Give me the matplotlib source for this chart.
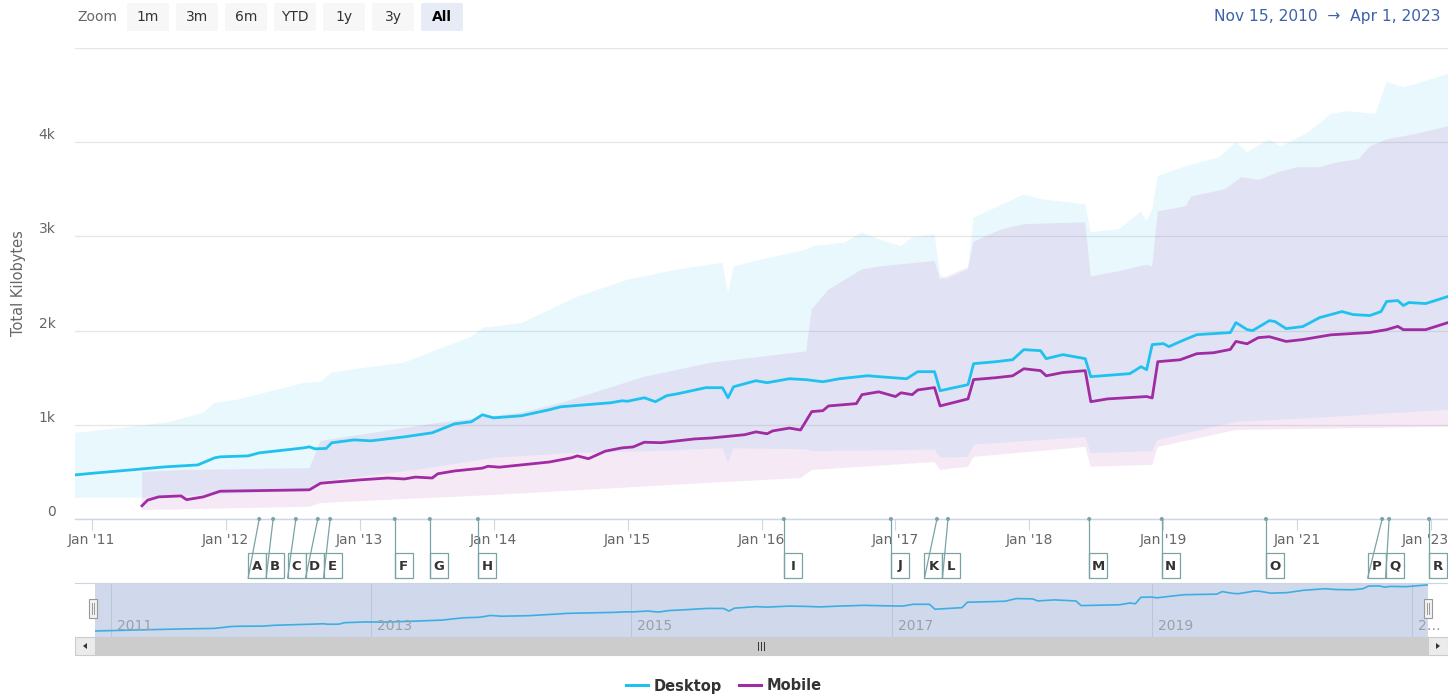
import numpy as np
import pandas as pd
import matplotlib
matplotlib.use('Agg')
import matplotlib.pyplot as plt
from matplotlib.patches import Rectangle, FancyBboxPatch, Polygon, Circle
from matplotlib.lines import Line2D
from matplotlib.transforms import ScaledTranslation

W, H = 1448, 695

# crawl calendar (ordinal x axis): 1st & 15th until end of 2018, monthly afterwards
crawls = pd.DatetimeIndex(list(pd.date_range('2010-11-15', '2018-12-15', freq='SMS')) +
                          list(pd.date_range('2019-01-01', '2023-04-01', freq='MS')))

# median total kilobytes, desktop
desk_dates = ['2010-11-15', '2011-01-01', '2011-04-15', '2011-07-15', '2011-10-15', '2011-12-01',
              '2011-12-15', '2012-03-01', '2012-04-01', '2012-08-01', '2012-08-15', '2012-09-01',
              '2012-10-01', '2012-10-15', '2012-12-15', '2013-02-01', '2013-05-01', '2013-07-15',
              '2013-09-15', '2013-11-01', '2013-12-01', '2014-01-01', '2014-03-15', '2014-06-01',
              '2014-07-01', '2014-11-15', '2014-12-15', '2015-01-01', '2015-02-15', '2015-03-15',
              '2015-04-15', '2015-05-15', '2015-08-01', '2015-09-15', '2015-10-01', '2015-10-15',
              '2015-12-15', '2016-01-15', '2016-03-15', '2016-05-01', '2016-06-15', '2016-08-01',
              '2016-10-15', '2016-11-15', '2017-02-01', '2017-03-01', '2017-04-15', '2017-05-01',
              '2017-07-15', '2017-08-01', '2017-10-01', '2017-11-15', '2017-12-15', '2018-02-01',
              '2018-02-15', '2018-04-01', '2018-06-01', '2018-06-15', '2018-10-01', '2018-11-01',
              '2018-11-15', '2018-12-01', '2019-01-01', '2019-02-01', '2019-04-01', '2019-07-01',
              '2019-10-01', '2020-01-01', '2020-02-01', '2020-04-01', '2020-05-01', '2020-08-01',
              '2020-09-01', '2020-11-01', '2021-02-01', '2021-05-01', '2021-09-01', '2021-11-01',
              '2022-02-01', '2022-04-01', '2022-05-01', '2022-07-01', '2022-08-01', '2022-09-01',
              '2022-12-01', '2023-04-01']
desk_kb = [468, 485, 521, 553, 574, 649,
           660, 670, 702, 755, 766, 745,
           749, 809, 840, 830, 872, 915,
           1010, 1032, 1106, 1074, 1096, 1160,
           1191, 1234, 1255, 1250, 1287, 1245,
           1309, 1330, 1394, 1394, 1287, 1404,
           1468, 1447, 1489, 1479, 1457, 1489,
           1521, 1511, 1489, 1564, 1564, 1362,
           1426, 1649, 1670, 1691, 1798, 1787,
           1702, 1745, 1702, 1511, 1543, 1617,
           1585, 1851, 1862, 1830, 1883, 1957,
           1968, 1979, 2085, 2011, 2000, 2106,
           2096, 2021, 2043, 2138, 2202, 2170,
           2160, 2202, 2309, 2319, 2266, 2298,
           2287, 2362]

# median total kilobytes, mobile
mob_dates = ['2011-05-15', '2011-06-01', '2011-07-01', '2011-09-01', '2011-09-15', '2011-11-01',
             '2011-12-01', '2011-12-15', '2012-08-15', '2012-09-15', '2012-11-01', '2013-01-01',
             '2013-03-15', '2013-05-01', '2013-06-01', '2013-07-15', '2013-08-01', '2013-09-15',
             '2013-12-01', '2013-12-15', '2014-01-15', '2014-06-01', '2014-08-01', '2014-08-15',
             '2014-09-15', '2014-11-01', '2014-12-15', '2015-01-15', '2015-02-15', '2015-04-01',
             '2015-07-01', '2015-08-15', '2015-11-15', '2015-12-15', '2016-01-15', '2016-02-01',
             '2016-03-15', '2016-04-15', '2016-05-15', '2016-06-15', '2016-07-01', '2016-09-15',
             '2016-10-01', '2016-11-15', '2017-01-01', '2017-01-15', '2017-02-15', '2017-03-01',
             '2017-04-15', '2017-05-01', '2017-07-15', '2017-08-01', '2017-10-01', '2017-11-15',
             '2017-12-15', '2018-02-01', '2018-02-15', '2018-04-01', '2018-06-01', '2018-06-15',
             '2018-08-01', '2018-11-15', '2018-12-01', '2018-12-15', '2019-04-01', '2019-07-01',
             '2019-10-01', '2020-01-01', '2020-02-01', '2020-04-01', '2020-06-01', '2020-08-01',
             '2020-11-01', '2021-02-01', '2021-07-01', '2022-02-01', '2022-05-01', '2022-07-01',
             '2022-08-01', '2022-12-01', '2023-04-01']
mob_kb = [140, 200, 235, 245, 205, 235,
          275, 295, 310, 380, 395, 415,
          435, 425, 445, 435, 480, 510,
          540, 560, 550, 605, 650, 670,
          640, 720, 755, 765, 815, 810,
          850, 860, 895, 925, 905, 935,
          965, 945, 1140, 1150, 1200, 1225,
          1320, 1350, 1300, 1340, 1320, 1370,
          1395, 1200, 1275, 1480, 1500, 1520,
          1595, 1575, 1520, 1555, 1575, 1245,
          1275, 1300, 1285, 1670, 1690, 1755,
          1765, 1800, 1885, 1860, 1925, 1935,
          1885, 1905, 1955, 1980, 2010, 2045,
          2010, 2010, 2085]

# percentile bands (upper / lower edges)
desk_hi_dates = ['2010-11-15', '2011-02-01', '2011-04-15', '2011-08-01', '2011-11-01', '2011-12-01',
                 '2012-02-01', '2012-08-01', '2012-09-15', '2012-10-15', '2013-02-01', '2013-05-01',
                 '2013-08-01', '2013-11-01', '2013-12-01', '2014-03-15', '2014-08-15', '2015-01-01',
                 '2015-05-15', '2015-09-15', '2015-10-01', '2015-10-15', '2016-01-01', '2016-05-01',
                 '2016-05-15', '2016-08-15', '2016-10-01', '2016-11-15', '2017-01-15', '2017-02-15',
                 '2017-04-15', '2017-05-01', '2017-05-15', '2017-07-15', '2017-08-01', '2017-12-15',
                 '2018-02-01', '2018-06-01', '2018-06-15', '2018-09-01', '2018-11-01', '2018-11-15',
                 '2018-12-01', '2018-12-15', '2019-05-01', '2019-11-01', '2020-02-01', '2020-04-01',
                 '2020-08-01', '2020-10-01', '2021-03-01', '2021-07-01', '2021-10-01', '2022-03-01',
                 '2022-05-01', '2022-08-01', '2022-10-01', '2023-04-01']
desk_hi = [915, 945, 980, 1030, 1130, 1235,
           1265, 1445, 1455, 1555, 1615, 1660,
           1800, 1935, 2030, 2080, 2360, 2540,
           2650, 2720, 2400, 2680, 2755, 2860,
           2895, 2935, 3045, 2970, 2895, 2990,
           3020, 2600, 2545, 2650, 3200, 3445,
           3395, 3340, 3045, 3075, 3265, 3160,
           3285, 3640, 3745, 3840, 4000, 3895,
           4030, 3955, 4105, 4300, 4330, 4300,
           4640, 4585, 4615, 4725]
desk_lo_dates = ['2010-11-15', '2011-05-15', '2011-12-01', '2012-08-15', '2012-09-15', '2013-06-01',
                 '2014-01-01', '2014-08-01', '2015-03-01', '2015-09-15', '2015-10-01', '2015-10-15',
                 '2016-05-01', '2016-05-15', '2017-04-15', '2017-05-01', '2017-07-15', '2017-08-01',
                 '2018-06-01', '2018-06-15', '2018-12-01', '2018-12-15', '2020-02-01', '2021-06-01',
                 '2023-04-01']
desk_lo = [225, 225, 260, 300, 400, 520,
           650, 700, 720, 750, 600, 750,
           740, 720, 735, 650, 660, 790,
           870, 700, 720, 840, 1030, 1080,
           1160]
mob_hi_dates = ['2011-05-15', '2011-09-01', '2012-08-15', '2012-09-15', '2013-08-01', '2014-03-15',
                '2014-07-01', '2015-02-15', '2015-08-15', '2016-05-01', '2016-05-15', '2016-07-01',
                '2016-10-01', '2016-11-15', '2017-04-15', '2017-05-01', '2017-07-15', '2017-08-01',
                '2017-10-15', '2017-12-15', '2018-06-01', '2018-06-15', '2018-09-01', '2018-11-15',
                '2018-12-01', '2018-12-15', '2019-05-01', '2019-06-01', '2019-12-01', '2020-03-01',
                '2020-06-01', '2020-10-01', '2021-01-01', '2021-05-01', '2021-08-01', '2021-12-01',
                '2022-02-01', '2022-05-01', '2022-10-01', '2023-04-01']
mob_hi = [500, 520, 540, 830, 1020, 1130,
          1230, 1510, 1660, 1780, 2225, 2435,
          2650, 2680, 2740, 2545, 2670, 2945,
          3075, 3130, 3150, 2575, 2630, 2700,
          2680, 3265, 3320, 3425, 3500, 3630,
          3600, 3690, 3735, 3735, 3785, 3820,
          3955, 4030, 4085, 4170]
mob_lo_dates = ['2011-05-15', '2012-08-15', '2012-09-15', '2014-01-01', '2015-08-15', '2016-04-15',
                '2016-05-15', '2017-04-15', '2017-05-01', '2017-07-15', '2017-08-01', '2018-06-01',
                '2018-06-15', '2018-12-01', '2018-12-15', '2020-02-01', '2023-04-01']
mob_lo = [95, 130, 170, 255, 385, 435,
          520, 605, 520, 555, 660, 765,
          555, 575, 765, 945, 980]

# annotation flags
flag_letters = list('ABCDEFGHIJKLMNOPQR')
flag_dates = ['2012-04-01', '2012-05-08', '2012-07-09', '2012-09-08', '2012-10-11', '2013-04-05',
              '2013-07-09', '2013-11-18', '2016-03-01', '2016-12-18', '2017-04-22', '2017-05-22',
              '2018-06-11', '2018-12-27', '2020-07-13', '2022-04-07', '2022-05-15', '2022-12-20']

xtick_dates = ['2011-01-01', '2012-01-01', '2013-01-01', '2014-01-01', '2015-01-01', '2016-01-01',
               '2017-01-01', '2018-01-01', '2019-01-01', '2021-01-01', '2023-01-01']
xtick_labels = ["Jan '11", "Jan '12", "Jan '13", "Jan '14", "Jan '15", "Jan '16",
                "Jan '17", "Jan '18", "Jan '19", "Jan '21", "Jan '23"]
nav_tick_dates = ['2011-01-01', '2013-01-01', '2015-01-01', '2017-01-01', '2019-01-01', '2023-01-01']
nav_tick_labels = ['2011', '2013', '2015', '2017', '2019', '2…']
zoom_buttons = ['1m', '3m', '6m', 'YTD', '1y', '3y', 'All']

DESK = '#1fc2ef'
MOB = '#a12ba3'
GREY = '#666666'
FLAG = '#7aa3a5'


def ordpos(dates):
    d = pd.to_datetime(list(dates)).values.astype('datetime64[D]').astype(float)
    g = crawls.values.astype('datetime64[D]').astype(float)
    return np.interp(d, g, np.arange(len(crawls)))


def fbox(l, t, r, b):
    return [l / W, 1 - b / H, (r - l) / W, (b - t) / H]


fig = plt.figure(figsize=(W / 100, H / 100), dpi=100)

# ---------------- main chart ----------------
ax = fig.add_axes(fbox(75, 48, 1448, 519))
ax.set_xlim(0, len(crawls) - 1)
ax.set_ylim(0, 5000)

ax.fill(np.concatenate([ordpos(desk_hi_dates), ordpos(desk_lo_dates)[::-1]]),
        np.concatenate([desk_hi, desk_lo[::-1]]), color='#22c0ee', alpha=0.1, lw=0, zorder=2)
ax.fill(np.concatenate([ordpos(mob_hi_dates), ordpos(mob_lo_dates)[::-1]]),
        np.concatenate([mob_hi, mob_lo[::-1]]), color='#b03aae', alpha=0.11, lw=0, zorder=2)
ax.plot(ordpos(desk_dates), desk_kb, color=DESK, lw=2.0, zorder=4, solid_joinstyle='round')
ax.plot(ordpos(mob_dates), mob_kb, color=MOB, lw=2.0, zorder=4, solid_joinstyle='round')

ax.set_yticks([0, 1000, 2000, 3000, 4000, 5000])
ax.set_yticklabels(['0', '1k', '2k', '3k', '4k', ''])
plt.setp(ax.get_yticklabels(), va='bottom')
ax.grid(axis='y', color='#e6e6e6', lw=0.9, zorder=0)
ax.tick_params(axis='y', length=0, pad=14, labelsize=10, labelcolor=GREY)
ax.set_xticks(ordpos(xtick_dates))
ax.set_xticklabels(xtick_labels)
ax.tick_params(axis='x', length=8, width=0.8, color='#ccd6eb', pad=2, labelsize=10, labelcolor=GREY)
# last label is pushed inside the chart edge, as in the original
last = ax.get_xticklabels()[-1]
last.set_ha('right')
last.set_transform(last.get_transform() + ScaledTranslation(0.18, 0, fig.dpi_scale_trans))
for s in ['top', 'right', 'left']:
    ax.spines[s].set_visible(False)
ax.spines['bottom'].set_color('#ccd6eb')
ax.spines['bottom'].set_linewidth(1.0)
ax.set_ylabel('Total Kilobytes', fontsize=10.5, color=GREY)
ax.yaxis.set_label_coords(-0.0415, 0.5)
ax.yaxis.label.set_va('center')

# ---------------- navigator ----------------
nav = fig.add_axes(fbox(95, 583, 1428, 637))
nav.set_facecolor('#d0d9ec')
nav.set_xlim(0, len(crawls) - 1)
span = max(desk_kb) - min(desk_kb)
nav.set_ylim(min(desk_kb) - 0.13 * span, max(desk_kb) + 0.04 * span)
for x in ordpos(nav_tick_dates):
    nav.axvline(x, color='#bcc6da', lw=0.8, zorder=1)
nav.plot(ordpos(desk_dates), desk_kb, color='#3eaee2', lw=1.2, zorder=2)
nav.set_xticks([])
nav.set_yticks([])
for s in nav.spines.values():
    s.set_visible(False)

# ---------------- decorations in pixel space ----------------
deco = fig.add_axes([0, 0, 1, 1], zorder=5)
deco.set_xlim(0, W)
deco.set_ylim(H, 0)
deco.axis('off')
deco.patch.set_alpha(0)

# range selector
deco.text(77, 17, 'Zoom', ha='left', va='center', fontsize=10, color=GREY)
for i, lab in enumerate(zoom_buttons):
    left = 127 + i * 49
    sel = lab == 'All'
    deco.add_patch(FancyBboxPatch((left, 3), 42, 28, boxstyle='round,pad=0,rounding_size=2',
                                  fc='#e6ebf5' if sel else '#f7f7f7', ec='none'))
    deco.text(left + 21, 17, lab, ha='center', va='center', fontsize=10,
              color='#000000' if sel else '#333333', fontweight='bold' if sel else 'normal')
deco.text(1440, 17, 'Nov 15, 2010  \u2192  Apr 1, 2023', ha='right', va='center',
          fontsize=11.2, color='#3d62a8')

# flags below the x axis
fx = ax.transData.transform(np.column_stack([ordpos(flag_dates), np.zeros(len(flag_dates))]))[:, 0]
bw = 18
groups = []
for i, x in enumerate(fx):
    groups.append([[i], x])
    while len(groups) > 1 and groups[-2][1] + bw * len(groups[-2][0]) > groups[-1][1]:
        g2 = groups.pop()
        g1 = groups.pop()
        mem = g1[0] + g2[0]
        groups.append([mem, np.mean(fx[mem]) - bw * len(mem) / 2])
lefts = np.zeros(len(fx))
for mem, left in groups:
    for k, i in enumerate(mem):
        lefts[i] = left + k * bw
for x, left, lab in zip(fx, lefts, flag_letters):
    deco.add_patch(Rectangle((left, 553), bw, 25, fc='white', ec=FLAG, lw=0.9))
    deco.plot([x, left], [519, 578], color=FLAG, lw=0.9)
    deco.add_patch(Circle((x, 519), 2.0, fc=FLAG, ec='none'))
    deco.text(left + bw / 2, 566, lab, ha='center', va='center', fontsize=9.5,
              fontweight='bold', color='#333333')

# navigator outline, labels and handles
deco.plot([75, W], [583, 583], color='#cfd5df', lw=0.8)
for x, lab in zip(nav.transData.transform(np.column_stack([ordpos(nav_tick_dates),
                                                           np.zeros(len(nav_tick_dates))]))[:, 0],
                  nav_tick_labels):
    deco.text(x + 6, 626, lab, ha='left', va='center', fontsize=10, color='#9aa0a8')
for hx in [93, 1428]:
    deco.add_patch(Rectangle((hx - 4, 599), 8, 19, fc='#f2f2f2', ec='#999999', lw=0.8))
    deco.plot([hx - 1, hx - 1], [603, 614], color='#999999', lw=0.7)
    deco.plot([hx + 1, hx + 1], [603, 614], color='#999999', lw=0.7)

# scrollbar
deco.add_patch(Rectangle((75, 637), W - 75, 18, fc='#f2f2f2', ec='none'))
deco.add_patch(Rectangle((95, 637), 1428 - 95, 18, fc='#cccccc', ec='#cccccc', lw=0.8))
deco.add_patch(Rectangle((75, 637), 20, 18, fc='#ebebeb', ec='#cccccc', lw=0.8))
deco.add_patch(Rectangle((1428, 637), 20, 18, fc='#ebebeb', ec='#cccccc', lw=0.8))
deco.add_patch(Polygon([[83, 646], [87, 643], [87, 649]], closed=True, fc='#333333', ec='none'))
deco.add_patch(Polygon([[1440, 646], [1436, 643], [1436, 649]], closed=True, fc='#333333', ec='none'))
for gx in [758, 761, 764]:
    deco.plot([gx, gx], [642, 650], color='#333333', lw=0.7)

# legend
handles = [Line2D([], [], color=DESK, lw=2.2), Line2D([], [], color=MOB, lw=2.2)]
fig.legend(handles, ['Desktop', 'Mobile'], loc='center', bbox_to_anchor=(0.5, 1 - 686 / H),
           ncol=2, frameon=False, handlelength=1.5, handletextpad=0.4, columnspacing=1.2,
           prop={'weight': 'bold', 'size': 10.5}, labelcolor='#333333')

fig.savefig('out.png', dpi=100)
